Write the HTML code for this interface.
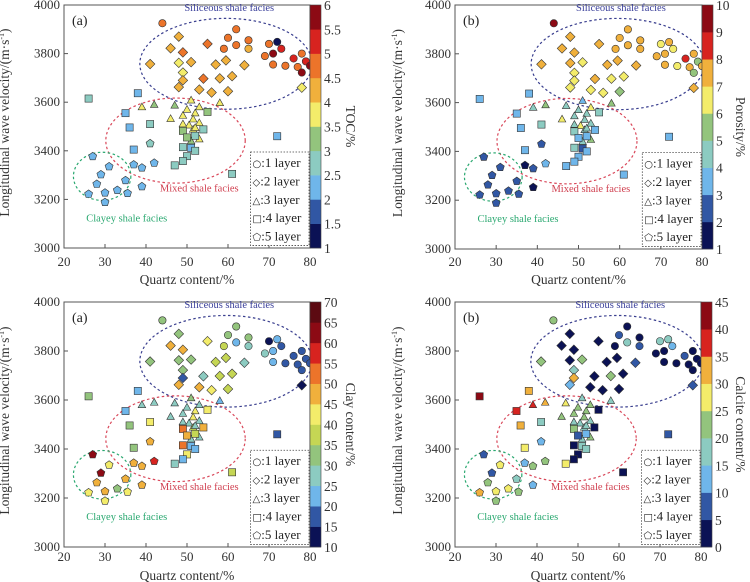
<!DOCTYPE html>
<html><head><meta charset="utf-8">
<style>
html,body{margin:0;padding:0;background:#fff;}
svg{display:block;font-family:"Liberation Serif",serif;}
</style></head>
<body>
<svg id="fig" width="750" height="582" viewBox="0 0 750 582"></svg>
<script>
// ---- data (shared positions) ----
const quartz = [44,62,60,65,62,70,72,73,65,71,78,59,69,76,79,71,74,77,80,78,
 48,46,49,55,41,48,51,49,49,48,57,59.5,64,54,58,61,53,56,60,78,
 39,42,47,51,58,46,49,50,52,53,51.5,53,49,50.5,51.5,52,53,51,
 26,38,35,36,41,37,55,49,50,52,54,49,51,52,50,49,47,61,72,
 27,41,42,37,39,31,29,35,28,39,33,26,30,35.5,30];
const velocity = [3925,3900,3865,3855,3835,3840,3848,3820,3820,3800,3800,3820,3790,3780,3768,3755,3750,3745,3750,3722,
 3870,3822,3805,3840,3757,3762,3765,3722,3690,3662,3755,3772,3752,3697,3698,3707,3652,3640,3645,3660,
 3580,3590,3587,3608,3597,3532,3545,3570,3555,3580,3530,3515,3510,3505,3488,3495,3448,3440,
 3615,3637,3555,3496,3510,3405,3560,3482,3455,3462,3488,3415,3412,3400,3378,3358,3340,3305,3460,
 3377,3430,3350,3343,3330,3335,3302,3278,3263,3253,3238,3222,3227,3225,3188];
const layer = [1,1,1,1,1,1,1,1,1,1,1,1,1,1,1,1,1,1,1,1,
 2,2,2,2,2,2,2,2,2,2,2,2,2,2,2,2,2,2,2,2,
 3,3,3,3,3,3,3,3,3,3,3,3,3,3,3,3,3,3,
 4,4,4,4,4,4,4,4,4,4,4,4,4,4,4,4,4,4,4,
 5,5,5,5,5,5,5,5,5,5,5,5,5,5,5];
const toc = [4.8,4.7,4.7,4.7,4.7,4.7,1.2,5.2,4.3,5.7,4.7,4.7,4.7,5.2,5.3,4.7,4.7,4.8,5.7,5.7,
 4.3,4.3,4.8,4.8,4.3,3.8,4.2,3.8,4.1,4.3,4.3,4.3,4.3,4.8,4.3,4.3,4.3,4.3,4.3,3.8,
 3.8,3.2,3.2,3.8,3.8,3.8,3.8,3.8,3.8,3.8,3.8,3.8,3.8,3.8,3.8,3.8,3.8,3.2,
 2.8,2.3,2.3,2.3,2.8,2.3,3.2,3.2,3.2,2.8,2.8,2.8,2.3,2.8,2.8,2.8,2.8,2.8,2.3,
 2.3,2.8,2.3,2.3,2.3,2.3,2.3,2.3,2.3,2.3,2.3,2.3,2.3,2.3,2.3];
const porosity = [9.5,7.5,7.5,7.5,7.5,6.5,7.5,6.5,7.5,7.5,7.5,7.5,7.5,8.5,5.5,7.5,6.5,7.5,7.5,5.5,
 7.5,7.5,7.5,7.5,7.5,7.5,6.5,6.5,6.5,6.5,7.5,7.5,7.5,7.5,6.5,6.5,6.5,6.5,5.5,7.5,
 4.5,5.5,4.5,3.5,5.5,6.5,4.5,4.5,4.5,6.5,4.5,4.5,4.5,6.5,4.5,4.5,5.5,4.5,
 3.5,3.5,3.5,3.5,4.5,3.5,4.5,4.5,3.5,3.5,3.5,4.5,2.5,3.5,3.5,3.5,3.5,3.5,3.5,
 2.5,2.5,3.5,1.5,2.5,2.5,2.5,2.5,2.5,1.5,2.5,2.5,2.5,2.5,2.5];
const clay = [32,32,32,32,22,12,22,17,27,22,17,37,27,17,17,22,17,17,17,17,
 32,47,47,42,32,32,32,32,17,47,37,37,27,27,37,37,47,42,37,12,
 27,27,27,32,22,27,27,27,42,27,42,27,27,27,37,27,27,27,
 32,22,22,32,42,32,42,52,47,37,47,52,22,22,42,22,27,37,17,
 62,47,58,47,47,42,62,47,47,47,32,42,47,42,42];
const calcite = [22,2,7,2,17,17,17,12,7,2,2,2,2,7,2,2,2,2,2,2,
 2,2,2,2,22,2,22,17,32,12,2,2,7,2,22,2,2,2,2,7,
 37,32,27,17,17,22,22,22,22,22,22,17,17,17,17,17,22,17,
 42,32,37,32,17,27,2,22,7,12,2,2,17,17,2,2,27,2,7,
 7,12,22,12,22,27,7,17,22,12,27,32,27,22,22];
const xTicks = [20,30,40,50,60,70,80];
const yTicks = [3000,3200,3400,3600,3800,4000];
const tocTicks = [1,1.5,2,2.5,3,3.5,4,4.5,5,5.5,6];
const porTicks = [1,2,3,4,5,6,7,8,9,10];
const clayTicks = [10,15,20,25,30,35,40,45,50,55,60,65,70];
const calTicks = [0,5,10,15,20,25,30,35,40,45];

const C={navy:'#0b1255',blue:'#3157a4',lb:'#6fb6ea',teal:'#8ccbc1',green:'#93c47d',yg:'#c5d654',yel:'#f3ec6a',oy:'#f0b03c',or:'#ec742a',red:'#d7231f',dr:'#8c0a14',vd:'#5c0a12'};
const pal9=[C.navy,C.blue,C.lb,C.teal,C.green,C.yel,C.oy,C.red,C.dr];
const pal10=[C.navy,C.blue,C.lb,C.teal,C.green,C.yel,C.oy,C.or,C.red,C.dr];
const pal12=[C.navy,C.blue,C.lb,C.teal,C.green,C.yg,C.yel,C.oy,C.or,C.red,C.dr,C.vd];

const panels=[
 {name:'toc',lab:'(a)',vals:toc,ticks:tocTicks,pal:pal10,title:'TOC/%',x0:64,x1:310,yt:5,yb:248,ttx:346,tly:266,aty:284,ytx:9},
 {name:'porosity',lab:'(b)',vals:porosity,ticks:porTicks,pal:pal9,title:'Porosity/%',x0:455,x1:702,yt:5,yb:249,ttx:736,tly:266,aty:284,ytx:402},
 {name:'clay',lab:'(a)',vals:clay,ticks:clayTicks,pal:pal12,title:'Clay content/%',x0:64,x1:310,yt:302,yb:547,ttx:346,tly:561,aty:580,ytx:9},
 {name:'calcite',lab:'(b)',vals:calcite,ticks:calTicks,pal:pal9,title:'Calcite content/%',x0:455,x1:701,yt:302,yb:547,ttx:736,tly:561,aty:580,ytx:402}
];
const NS='http://www.w3.org/2000/svg';
const svg=document.getElementById('fig');
function mk(tag,attrs,parent){const e=document.createElementNS(NS,tag);for(const k in attrs)e.setAttribute(k,attrs[k]);(parent||svg).appendChild(e);return e;}

panels.forEach((p,pi)=>{
 const g=mk('g',{});
 
 
 const sx=v=>p.x0+(v-20)/60*(p.x1-p.x0);
 const sy=v=>p.yb-(v-3000)/1000*(p.yb-p.yt);
 const clipId='clip'+pi;
 const cp=mk('clipPath',{id:clipId},g);
 mk('rect',{x:p.x0,y:p.yt,width:p.x1-p.x0,height:p.yb-p.yt},cp);
 const fr=mk('rect',{x:p.x0,y:p.yt,width:p.x1-p.x0,height:p.yb-p.yt,fill:'none',stroke:'#555','stroke-width':1},g);
 
 
 xTicks.forEach(t=>{
  mk('line',{x1:sx(t),x2:sx(t),y1:p.yb,y2:p.yb-4,stroke:'#555'},g);
  const tl=mk('text',{x:sx(t),y:p.tly,'font-size':13,'text-anchor':'middle',fill:'#333'},g);
  tl.textContent=t;
  
  
 });
 yTicks.forEach(t=>{
  mk('line',{x1:p.x0,x2:p.x0+4,y1:sy(t),y2:sy(t),stroke:'#555'},g);
  const tl=mk('text',{x:p.x0-4,y:sy(t)+4,'font-size':13,'text-anchor':'end',fill:'#333'},g);
  tl.textContent=t;
  
  
 });
 const xt=mk('text',{x:(p.x0+p.x1)/2,y:p.aty,'font-size':13.5,'text-anchor':'middle',fill:'#333'},g);
 xt.textContent='Quartz content/%';
 
 
 const yc=(p.yt+p.yb)/2;
 const yt=mk('text',{x:p.ytx+4,y:yc,'font-size':13.5,'text-anchor':'middle',fill:'#333',transform:`rotate(-90 ${p.ytx} ${yc})`},g);
 yt.innerHTML='Longitudinal wave velocity/(m·s<tspan dy="-5" font-size="8">-1</tspan><tspan dy="5">)</tspan>';
 
 
 const pl=mk('text',{x:p.x0+8,y:p.yt+20,'font-size':14,fill:'#222'},g);
 pl.textContent=p.lab;
 
 
 const eg=mk('g',{'clip-path':`url(#${clipId})`},g);
 const ells=[[59.5,3758,21,187,'#3a3f8f','siliceous-ellipse'],[47.2,3442,17,175,'#d9485a','mixed-ellipse'],[29.3,3295,7,99,'#2aa870','clayey-ellipse']];
 ells.forEach(e=>{
  const el=mk('ellipse',{cx:sx(e[0]),cy:sy(e[1]),rx:e[2]/60*(p.x1-p.x0),ry:e[3]/1000*(p.yb-p.yt),fill:'none',stroke:e[4],'stroke-width':1.2,'stroke-dasharray':'2.5,2.5'},eg);
  
  
 });
 const labs=[[60.3,3975,'Siliceous shale facies','#3a3f9a','siliceous-label'],[53,3233,'Mixed shale facies','#d04050','mixed-label'],[35.3,3110,'Clayey shale facies','#2aa870','clayey-label']];
 labs.forEach(l=>{
  const t=mk('text',{x:sx(l[0]),y:sy(l[1]),'font-size':10.5,'text-anchor':'middle',fill:l[3]},g);
  t.textContent=l[2];
  
  
 });
 const lo=p.ticks[0],hi=p.ticks[p.ticks.length-1],n=p.pal.length;
 const col=v=>p.pal[Math.max(0,Math.min(n-1,Math.floor((v-lo)/(hi-lo)*n)))];
 const mg=mk('g',{},g);
 quartz.forEach((q,i)=>{
  const x=sx(q),y=sy(velocity[i]),f=col(p.vals[i]);
  let el;const st={fill:f,stroke:'#333','stroke-width':0.6};
  const L=layer[i];
  if(L===1){el=mk('circle',Object.assign({cx:x,cy:y,r:3.7},st),mg);}
  else if(L===2){el=mk('polygon',Object.assign({points:`${x},${y-4.8} ${x+4.8},${y} ${x},${y+4.8} ${x-4.8},${y}`},st),mg);}
  else if(L===3){el=mk('polygon',Object.assign({points:`${x},${y-4} ${x+3.8},${y+2.8} ${x-3.8},${y+2.8}`},st),mg);}
  else if(L===4){el=mk('rect',Object.assign({x:x-3.6,y:y-3.6,width:7.2,height:7.2},st),mg);}
  else {let pts=[];for(let k=0;k<5;k++){const a=-Math.PI/2+k*2*Math.PI/5;pts.push((x+4.2*Math.cos(a)).toFixed(1)+','+(y+4.2*Math.sin(a)).toFixed(1));}el=mk('polygon',Object.assign({points:pts.join(' ')},st),mg);}
  
  
 });
 const lx=sx(65.5),ly=sy(3395),lw=sx(80)-lx-1,lh=sy(3010)-ly;
 const lgd=mk('g',{},g);
 
 
 mk('rect',{x:lx,y:ly,width:lw,height:lh,fill:'#fff',stroke:'#444','stroke-width':0.8,'stroke-dasharray':'1.5,1.5'},lgd);
 const syms=['○','◇','△','□','⬠'];
 for(let k=0;k<5;k++){
  const t=mk('text',{x:lx+2,y:ly+15+k*18.4,'font-size':13,fill:'#222'},lgd);
  t.innerHTML=`<tspan font-family="DejaVu Sans" font-size="10">${syms[k]}</tspan>:${k+1} layer`;
  
  
 }
 const cb=mk('g',{},g);
 
 
 const ch=(p.yb-p.yt)/n;
 p.pal.forEach((c,k)=>{mk('rect',{x:p.x1,y:p.yb-(k+1)*ch,width:11,height:ch+0.3,fill:c},cb);});
 mk('rect',{x:p.x1,y:p.yt,width:11,height:p.yb-p.yt,fill:'none',stroke:'#444','stroke-width':0.6},cb);
 p.ticks.forEach((t,k)=>{
  const ty=p.yb-k*(p.yb-p.yt)/(p.ticks.length-1);
  const tl=mk('text',{x:p.x1+14,y:ty+5,'font-size':13.5,fill:'#333'},cb);
  tl.textContent=t;
  
  
 });
 const ct=mk('text',{x:p.ttx,y:yc,'font-size':13.5,'text-anchor':'middle',fill:'#333',transform:`rotate(90 ${p.ttx} ${yc})`},g);
 ct.textContent=p.title;
 
 
});
</script>
</body></html>
